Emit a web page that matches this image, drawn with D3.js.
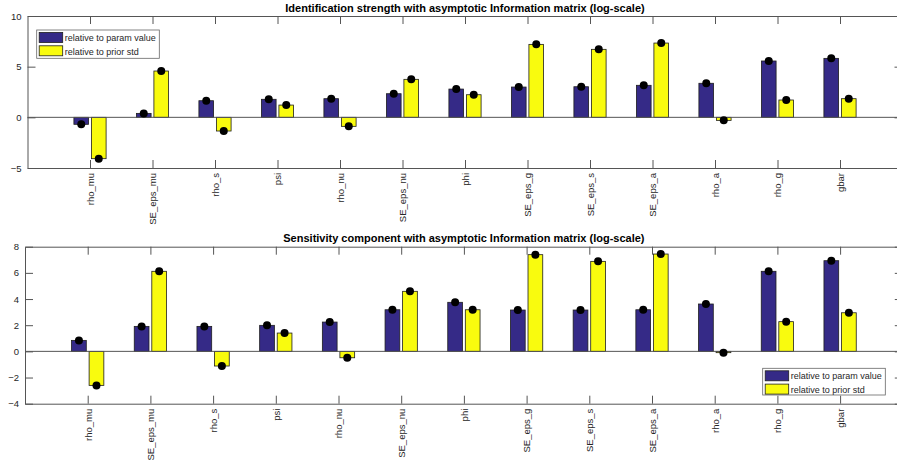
<!DOCTYPE html>
<html>
<head>
<meta charset="utf-8">
<script src="https://cdn.jsdelivr.net/npm/d3@7"></script>
<style>
  html, body { margin: 0; padding: 0; background: #fff; }
  svg { display: block; font-family: "Liberation Sans", Arial, Helvetica, sans-serif; }
</style>
</head>
<body>
<svg id="chart" width="897" height="464"></svg>
<script>
// Parameter names along the x axis
const params = ["rho_mu", "SE_eps_mu", "rho_s", "psi", "rho_nu", "SE_eps_nu", "phi",
                "SE_eps_g", "SE_eps_s", "SE_eps_a", "rho_a", "rho_g", "gbar"];

// Identification strength (log-scale)
const idParamValue = [-0.69, 0.39, 1.64, 1.78, 1.84, 2.33, 2.79, 2.99, 3.02, 3.16, 3.36, 5.56, 5.82];
const idPriorStd   = [-4.08, 4.57, -1.35, 1.21, -0.89, 3.75, 2.23, 7.20, 6.71, 7.33, -0.30, 1.71, 1.84];

// Sensitivity component (log-scale)
const senParamValue = [0.84, 1.91, 1.91, 1.99, 2.24, 3.18, 3.75, 3.16, 3.16, 3.18, 3.62, 6.12, 6.93];
const senPriorStd   = [-2.60, 6.12, -1.12, 1.40, -0.49, 4.59, 3.18, 7.39, 6.88, 7.44, -0.10, 2.27, 2.95];

// Tick labels
const idTicks  = [-5, 0, 5, 10];
const senTicks = [-4, -2, 0, 2, 4, 6, 8];

const seriesNames  = ["relative to param value", "relative to prior std"];
const seriesColors = ["#352a87", "#f9fb0e"];

const svg = d3.select("#chart");
const axisColor = "#555";
const textColor = "#262626";

function drawPanel(cfg) {
  const x = d3.scaleLinear().domain([0, params.length + 1]).range([cfg.left, cfg.right]);
  const y = d3.scaleLinear().domain([cfg.ymin, cfg.ymax]).range([cfg.bottom, cfg.top]);
  const unit = x(1) - x(0);
  const barW = unit * 0.235;
  const offs = [-0.14, 0.14];
  const g = svg.append("g");

  // bars for both series
  [cfg.a, cfg.b].forEach((vals, s) => {
    g.selectAll(null).data(vals).enter().append("rect")
      .attr("x", (d, i) => x(i + 1 + offs[s]) - barW / 2)
      .attr("width", barW)
      .attr("y", d => Math.min(y(d), y(0)))
      .attr("height", d => Math.abs(y(d) - y(0)))
      .attr("fill", seriesColors[s])
      .attr("stroke", "#1e1e1e")
      .attr("stroke-width", 0.8);
  });

  // baseline at zero
  g.append("line")
    .attr("x1", cfg.left).attr("x2", cfg.right)
    .attr("y1", y(0)).attr("y2", y(0))
    .attr("stroke", axisColor).attr("stroke-width", 1);

  // value markers
  [cfg.a, cfg.b].forEach((vals, s) => {
    g.selectAll(null).data(vals).enter().append("circle")
      .attr("cx", (d, i) => x(i + 1 + offs[s]))
      .attr("cy", d => y(d))
      .attr("r", 4)
      .attr("fill", "#000");
  });

  // axes: ticks point inward on all four sides
  const cats = d3.range(1, params.length + 1);
  const bottomAxis = g.append("g").attr("transform", `translate(0,${cfg.bottom})`)
    .call(d3.axisBottom(x).tickValues(cats).tickFormat(i => params[i - 1])
      .tickSizeInner(-8).tickSizeOuter(0));
  bottomAxis.selectAll("text")
    .attr("transform", "rotate(-90)")
    .attr("x", -5).attr("y", 0).attr("dy", "0.35em")
    .attr("text-anchor", "end");

  g.append("g").attr("transform", `translate(0,${cfg.top})`)
    .call(d3.axisTop(x).tickValues(cats).tickFormat("").tickSizeInner(-8).tickSizeOuter(0));

  g.append("g").attr("transform", `translate(${cfg.left},0)`)
    .call(d3.axisLeft(y).tickValues(cfg.ticks).tickFormat(d3.format("d"))
      .tickSizeInner(-8).tickSizeOuter(0).tickPadding(6));

  g.append("g").attr("transform", `translate(${cfg.right},0)`)
    .call(d3.axisRight(y).tickValues(cfg.ticks).tickFormat("").tickSizeInner(-8).tickSizeOuter(0));

  g.selectAll(".domain, .tick line").attr("stroke", axisColor);
  g.selectAll(".tick text").attr("fill", textColor).attr("font-size", 9.5)
    .attr("font-family", "Liberation Sans, Arial, sans-serif");

  // title
  g.append("text")
    .attr("x", (cfg.left + cfg.right) / 2).attr("y", cfg.titleY)
    .attr("text-anchor", "middle")
    .attr("font-size", 11).attr("font-weight", "bold").attr("fill", "#000")
    .text(cfg.title);

  // legend
  const L = cfg.legend;
  const lg = g.append("g").attr("transform", `translate(${L.x},${L.y})`);
  lg.append("rect").attr("width", L.w).attr("height", L.h)
    .attr("fill", "#fff").attr("stroke", "#666").attr("stroke-width", 0.8);
  seriesNames.forEach((name, s) => {
    lg.append("rect")
      .attr("x", 2.5).attr("y", 2.5 + s * 13.3)
      .attr("width", 23.5).attr("height", 10)
      .attr("fill", seriesColors[s]).attr("stroke", "#1e1e1e").attr("stroke-width", 0.8);
    lg.append("text")
      .attr("x", 28).attr("y", 11.2 + s * 13.3)
      .attr("font-size", 9).attr("fill", textColor)
      .text(name);
  });
}

drawPanel({
  title: "Identification strength with asymptotic Information matrix (log-scale)",
  titleY: 11.5,
  left: 27.5, right: 902.5, top: 16, bottom: 168,
  ymin: -5, ymax: 10, ticks: idTicks,
  a: idParamValue, b: idPriorStd,
  legend: { x: 36.7, y: 30, w: 122.6, h: 28.3 }
});

drawPanel({
  title: "Sensitivity component with asymptotic Information matrix (log-scale)",
  titleY: 241.5,
  left: 25, right: 902.8, top: 246.7, bottom: 403.7,
  ymin: -4, ymax: 8, ticks: senTicks,
  a: senParamValue, b: senPriorStd,
  legend: { x: 762.7, y: 368.3, w: 122.6, h: 26.7 }
});
</script>
</body>
</html>
